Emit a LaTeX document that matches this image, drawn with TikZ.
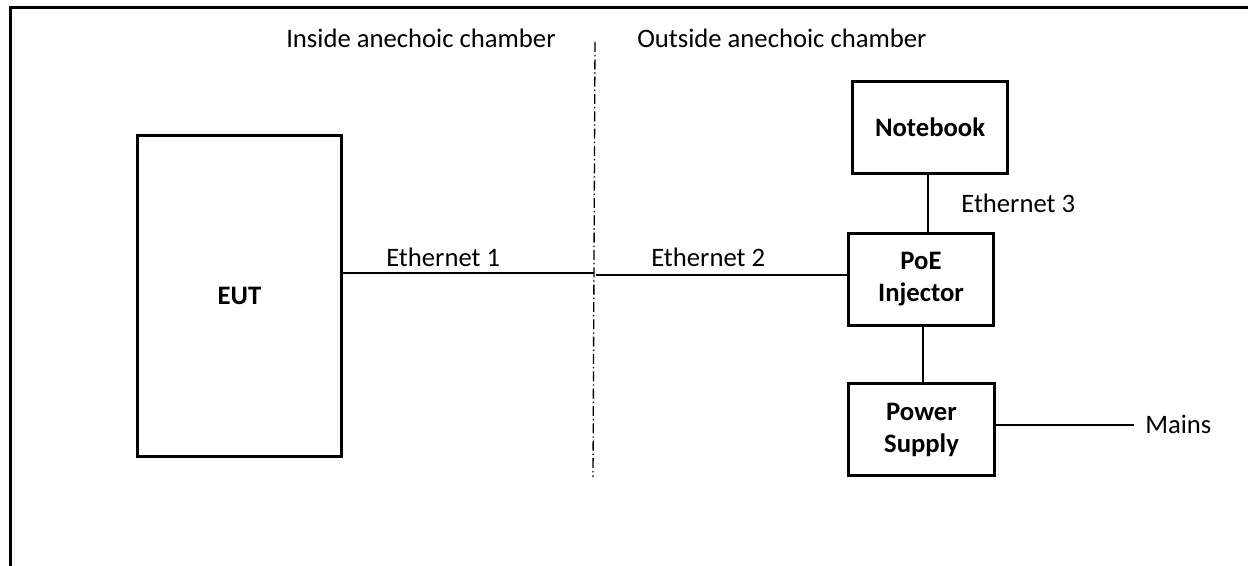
\documentclass[tikz,border=0pt]{standalone}
\usepackage{fontspec}
\setmainfont{Carlito}
\begin{document}
\begin{tikzpicture}[x=0.75pt,y=-0.75pt,
  box/.style={draw, line width=2.25pt, inner sep=0pt, align=center, font=\bfseries\fontsize{20}{24}\selectfont},
  lbl/.style={inner sep=0pt, font=\fontsize{20}{24}\selectfont},
  wire/.style={line width=1.5pt},
  frame/.style={line width=2.25pt},
  divider/.style={line width=1pt, dash pattern=on 7.5pt off 2.2pt on 1.1pt off 2.2pt}]
\useasboundingbox (0,0) rectangle (1248,566);
% frame (top and left edges only)
\coordinate (fTL) at (10,7.5);
\coordinate (fTR) at (1250,7.5);
\coordinate (fBL) at (10,568);
\draw[frame] (fTR) -- (fTL) -- (fBL);
% divider
\coordinate (dTop) at (595,42);
\coordinate (dBot) at (593,477);
\draw[divider] (dTop) -- (dBot);
% labels of the two sides
\node[lbl, anchor=base west] (inside) at (286,48) {Inside anechoic chamber};
\node[lbl, anchor=base west] (outside) at (637,48) {Outside anechoic chamber};
% boxes
\node[box, minimum width=204*0.75pt, minimum height=321*0.75pt] (eut) at (239.5,296) {EUT};
\node[box, minimum width=155*0.75pt, minimum height=92*0.75pt] (nb) at (930,127.5) {Notebook};
\node[box, minimum width=145*0.75pt, minimum height=92*0.75pt] (poe) at (921,279.5) {PoE\\Injector};
\node[box, minimum width=146*0.75pt, minimum height=92*0.75pt] (ps) at (921.5,429.5) {Power\\Supply};
% connectors
\coordinate (e1) at (594,273);
\coordinate (e2) at (596,275);
\draw[wire] (eut.east |- e1) -- (e1);
\draw[wire] (e2) -- (poe.west |- e2);
\coordinate (e3) at (928,200);
\draw[wire] (nb.south -| e3) -- (poe.north -| e3);
\coordinate (pw) at (923,300);
\draw[wire] (poe.south -| pw) -- (ps.north -| pw);
\coordinate (mainsEnd) at (1134,425);
\draw[wire] (ps.east |- mainsEnd) -- (mainsEnd);
% connector labels
\node[lbl, anchor=base west] (l1) at (386,267) {Ethernet 1};
\node[lbl, anchor=base west] (l2) at (651,267) {Ethernet 2};
\node[lbl, anchor=base west] (l3) at (961,213) {Ethernet 3};
\node[lbl, anchor=base west] (mains) at (1145,433) {Mains};
\end{tikzpicture}
\end{document}
